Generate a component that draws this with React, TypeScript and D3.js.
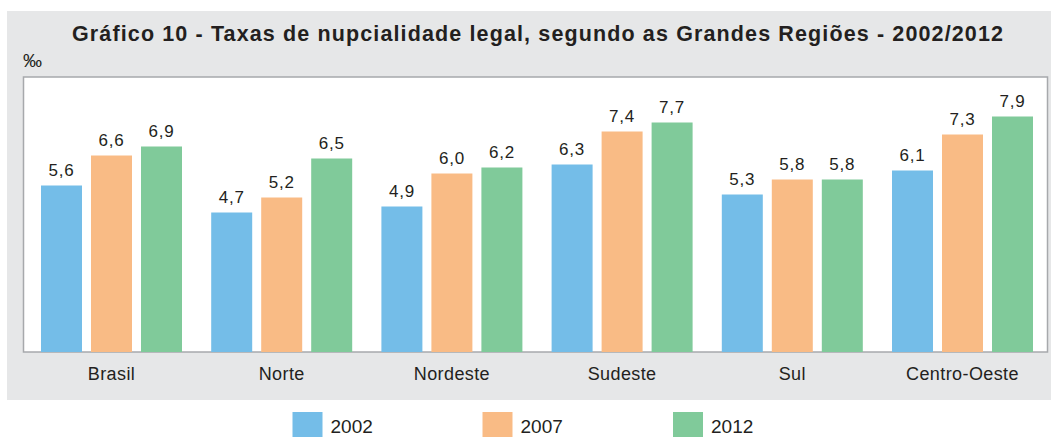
import React from "react";
import * as d3 from "d3";

const categories = ["Brasil", "Norte", "Nordeste", "Sudeste", "Sul", "Centro-Oeste"];
const years = ["2002", "2007", "2012"];
const v2002 = [5.6, 4.7, 4.9, 6.3, 5.3, 6.1];
const v2007 = [6.6, 5.2, 6.0, 7.4, 5.8, 7.3];
const v2012 = [6.9, 6.5, 6.2, 7.7, 5.8, 7.9];
const seriesValues = [v2002, v2007, v2012];
const colors = ["#74BDE8", "#F9BB85", "#80CA9A"];
const title = "Gráfico 10 - Taxas de nupcialidade legal, segundo as Grandes Regiões - 2002/2012";

const W = 1051;
const H = 437;
const font = "'Liberation Sans', Arial, Helvetica, sans-serif";
const textColor = "#231F20";

export default function App() {
  const plot = { left: 23.5, top: 77, right: 1047.5, bottom: 352 };
  const x0 = d3.scaleBand<string>().domain(categories).range([26.4, 1047.6]);
  const x1 = d3.scaleBand<string>().domain(years).range([-70.5, 70.5]).paddingInner(0.18);
  const y = d3.scaleLinear().domain([0, 9]).range([353.5, 83.5]);
  const fmt = (v: number) => v.toFixed(1).replace(".", ",");

  const legendX = [292.5, 482.5, 673];

  return (
    <svg width={W} height={H} style={{ position: "absolute", left: 0, top: 0 }}>
      <rect x={0} y={0} width={W} height={H} fill="#ffffff" />
      <rect x={7} y={11} width={W - 7} height={389} fill="#E6E7E8" />
      <text
        x={72}
        y={41}
        fontFamily={font}
        fontWeight="bold"
        fontSize={21.5}
        textLength={931}
        lengthAdjust="spacing"
        fill={textColor}
      >
        {title}
      </text>
      <text x={23} y={67} fontFamily={font} fontSize={19} fill={textColor}>
        ‰
      </text>
      <rect
        x={plot.left}
        y={plot.top}
        width={plot.right - plot.left}
        height={plot.bottom - plot.top}
        fill="#ffffff"
        stroke="#A7A9AC"
        strokeWidth={1.5}
      />
      {categories.map((c, i) => {
        const cx = (x0(c) ?? 0) + x0.bandwidth() / 2;
        return (
          <g key={c}>
            {years.map((yr, j) => {
              const v = seriesValues[j][i];
              const bx = cx + (x1(yr) ?? 0);
              const top = y(v);
              return (
                <g key={yr}>
                  <rect x={bx} y={top} width={x1.bandwidth()} height={plot.bottom - top} fill={colors[j]} />
                  <text
                    x={bx + x1.bandwidth() / 2}
                    y={top - 10}
                    textAnchor="middle"
                    fontFamily={font}
                    fontSize={17}
                    letterSpacing={0.8}
                    fill={textColor}
                  >
                    {fmt(v)}
                  </text>
                </g>
              );
            })}
            <text
              x={cx}
              y={380}
              textAnchor="middle"
              fontFamily={font}
              fontSize={18}
              letterSpacing={0.4}
              fill={textColor}
            >
              {c}
            </text>
          </g>
        );
      })}
      {years.map((yr, j) => (
        <g key={yr}>
          <rect x={legendX[j]} y={412} width={30} height={25} fill={colors[j]} />
          <text x={legendX[j] + 38} y={433} fontFamily={font} fontSize={19} fill={textColor}>
            {yr}
          </text>
        </g>
      ))}
    </svg>
  );
}
